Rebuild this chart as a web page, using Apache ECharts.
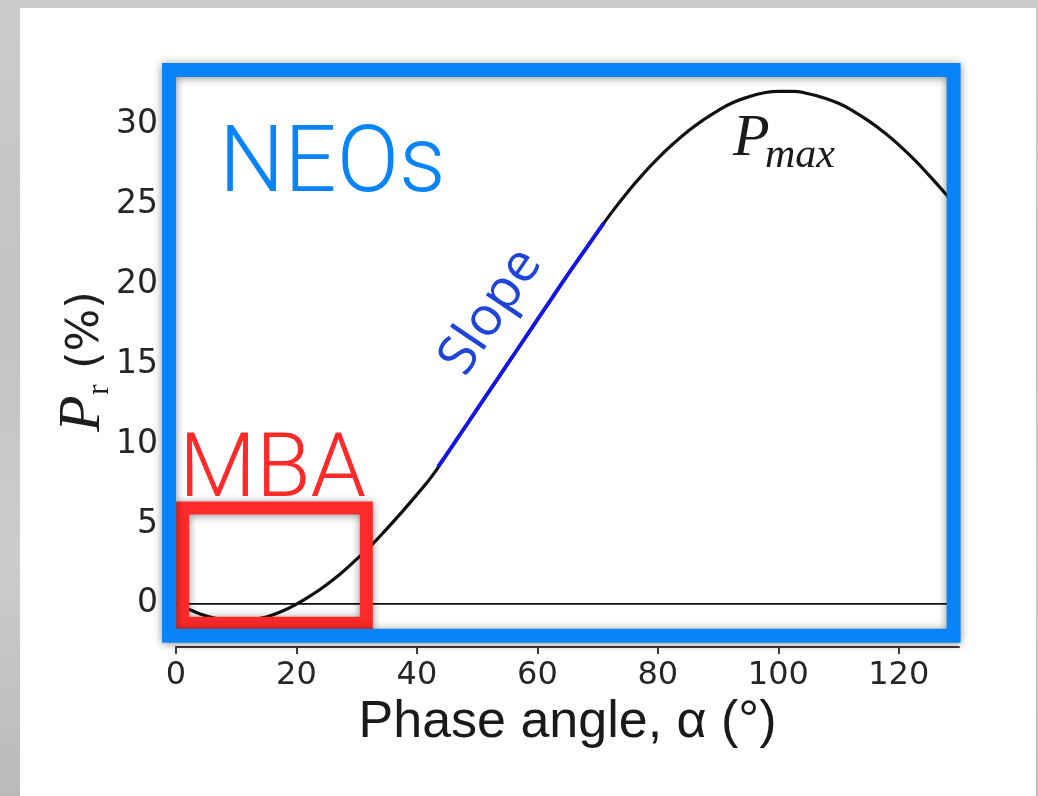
<!DOCTYPE html>
<html><head><meta charset="utf-8">
<script src="https://cdn.jsdelivr.net/npm/echarts@6/dist/echarts.min.js"></script>
<style>
html,body{margin:0;padding:0;width:1038px;height:796px;overflow:hidden;background:#c6c7c9;}
#bg{position:absolute;left:0;top:0;width:1038px;height:796px;background:linear-gradient(180deg,#cacbcd 0%,#c2c3c5 40%,#cbcccd 70%,#b9babc 100%);}
#card{position:absolute;left:20px;top:8px;width:1016px;height:788px;background:#fff;}
#chart{position:absolute;left:0;top:0;width:1038px;height:796px;}
</style></head><body>
<div id="bg"></div><div id="card"></div><div id="chart"></div>
<script>
// Phase angle (deg) and polarization Pr (%)
const angles = [0,2.5,5,7.5,10,12.5,15,17.5,20,22.5,25,27.5,30,32.5,35,37.5,40,42.5,45,47.5,50,52.5,55,57.5,60,62.5,65,67.5,70,72.5,75,77.5,80,82.5,85,87.5,90,92.5,95,97.5,100,102.5,105,107.5,110,112.5,115,117.5,120,122.5,125,127.5,130];
const polarization = [0,-0.4,-0.75,-0.98,-1.08,-1.02,-0.82,-0.48,-0.02,0.55,1.2,1.95,2.8,3.7,4.7,5.75,6.85,8.0,9.4,10.8,12.2,13.6,15.0,16.4,17.8,19.2,20.6,21.95,23.3,24.6,25.8,26.9,27.9,28.8,29.6,30.3,30.9,31.4,31.75,32.0,32.1,32.1,31.95,31.7,31.35,30.85,30.25,29.55,28.75,27.85,26.85,25.8,24.7];
// Highlighted linear ("Slope") part of the curve
const slopeAngles = [43.5,45,47.5,50,52.5,55,57.5,60,62.5,65,67.5,70,71];
const slopeValues = [8.6,9.4,10.8,12.2,13.6,15.0,16.4,17.8,19.2,20.6,21.95,23.3,23.85];
const xTicks = [0,20,40,60,80,100,120];
const yTicks = [0,5,10,15,20,25,30];
const zeroLine = [[0,0],[130,0]];
// annotation regions in data units
const mbaBox = {x0:1.1, x1:31.6, y0:-1.22, y1:6.0};
const neoBox = {x0:-1.15, x1:129.1, y0:-2.0, y1:33.44};

const chart = echarts.init(document.getElementById('chart'), null, {renderer:'canvas'});
const curve = angles.map((a,i)=>[a, polarization[i]]);
const slope = slopeAngles.map((a,i)=>[a, slopeValues[i]]);

chart.setOption({
  backgroundColor:'transparent',
  animation:false,
  grid:{left:176,right:79,top:69,bottom:149,containLabel:false},
  xAxis:{
    type:'value',min:0,max:130,
    axisLine:{show:true,onZero:false,lineStyle:{color:'#3a3a3a',width:2}},
    axisTick:{show:true,length:7,customValues:xTicks,lineStyle:{color:'#3a3a3a',width:2}},
    axisLabel:{customValues:xTicks,fontFamily:'DejaVu Sans',fontSize:32,color:'#262626',margin:13},
    splitLine:{show:false},
    name:'Phase angle, α (°)',nameLocation:'middle',nameGap:44,
    nameTextStyle:{fontFamily:'Liberation Sans',fontSize:52,color:'#1a1a1a'}
  },
  yAxis:{
    type:'value',min:-2.7,max:33.5,
    axisLine:{show:false},
    axisTick:{show:false},
    axisLabel:{customValues:yTicks,fontFamily:'DejaVu Sans',fontSize:33,color:'#262626',margin:18},
    splitLine:{show:false}
  },
  series:[
    {type:'line',data:zeroLine,symbol:'none',silent:true,lineStyle:{color:'#111',width:1.8},z:2},
    {type:'line',data:curve,smooth:true,symbol:'none',silent:true,lineStyle:{color:'#111',width:3.2},z:3},
    {type:'line',data:slope,smooth:true,symbol:'none',silent:true,lineStyle:{color:'#1515e8',width:3.8},z:4}
  ]
});

function px(x,y){return chart.convertToPixel({gridIndex:0},[x,y]);}
function boxRect(b){
  const a=px(b.x0,b.y1), c=px(b.x1,b.y0);
  return {x:a[0],y:a[1],width:c[0]-a[0],height:c[1]-a[1]};
}
const slopePos = px(52.3,18.3);
const graphics = [
  {type:'rect',z:50,shape:boxRect(mbaBox),style:{fill:'none',stroke:'#fd2a2a',lineWidth:13,shadowBlur:8,shadowColor:'rgba(0,0,0,0.45)',shadowOffsetY:1}},
  {type:'rect',z:60,shape:boxRect(neoBox),style:{fill:'none',stroke:'#0884f8',lineWidth:14,shadowBlur:8,shadowColor:'rgba(0,0,0,0.45)',shadowOffsetY:1}},
  {type:'text',z:70,x:219,y:168,style:{text:'NEOs',font:'300 92px Roboto',fill:'#0884f8',align:'left',verticalAlign:'middle'}},
  {type:'text',z:70,x:179,y:474,style:{text:'MBA',font:'300 89px Roboto',fill:'#fd2a2a',align:'left',verticalAlign:'middle'}},
  {type:'text',z:40,x:slopePos[0],y:slopePos[1],rotation:56*Math.PI/180,style:{text:'Slope',font:'54px "Open Sans"',fill:'#1f45d8',align:'center',verticalAlign:'middle'}},
  {type:'text',z:40,x:733,y:139,style:{text:'P',font:'italic 60px "Liberation Serif"',fill:'#1a1a1a',align:'left',verticalAlign:'middle'}},
  {type:'text',z:40,x:765,y:156,style:{text:'max',font:'italic 42px "Liberation Serif"',fill:'#1a1a1a',align:'left',verticalAlign:'middle'}},
  {type:'group',x:102,y:432,rotation:Math.PI/2,children:[
    {type:'text',x:0,y:-19,style:{text:'P',font:'italic 60px "Liberation Serif"',fill:'#1e1e1e',align:'left',verticalAlign:'middle'}},
    {type:'text',x:37,y:-2,style:{text:'r',font:'32px "Liberation Serif"',fill:'#1e1e1e',align:'left',verticalAlign:'middle'}},
    {type:'text',x:63,y:-16,style:{text:'(%)',font:'45px "DejaVu Sans"',fill:'#1e1e1e',align:'left',verticalAlign:'middle'}}
  ]}
];
chart.setOption({graphic:graphics});
</script></body></html>
